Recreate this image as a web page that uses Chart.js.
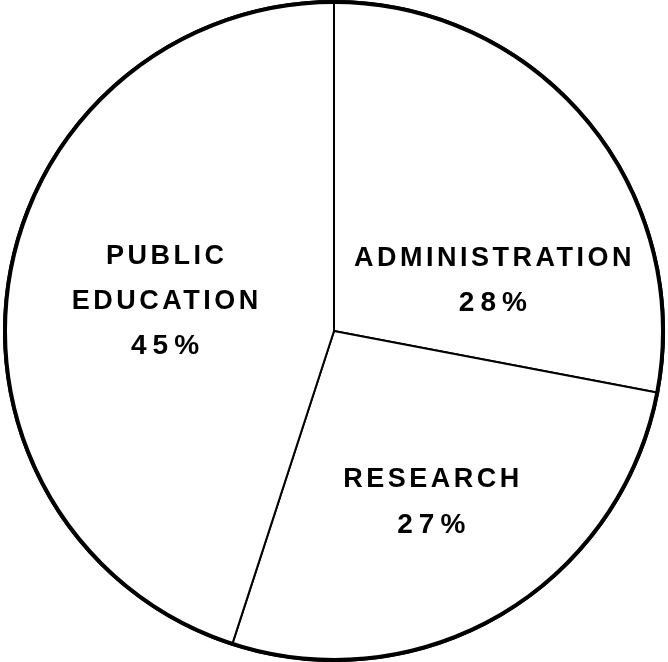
<!DOCTYPE html>
<html>
<head>
<meta charset="utf-8">
<script src="https://cdn.jsdelivr.net/npm/chart.js@4/dist/chart.umd.min.js"></script>
<style>
  html, body { margin: 0; padding: 0; background: #fff; }
  .wrap { width: 668px; height: 662px; }
</style>
</head>
<body>
<div class="wrap"><canvas id="pie-chart" width="668" height="662"></canvas></div>
<script>
// chart values
var categories = ['ADMINISTRATION', 'RESEARCH', 'PUBLIC EDUCATION'];
var shares = [28, 27, 45];
var labelLines = [
  ['ADMINISTRATION', '28%'],
  ['RESEARCH', '27%'],
  ['PUBLIC', 'EDUCATION', '45%']
];

// where each text block sits: angle clockwise from top (deg), share of radius
var labelPlace = [
  { deg: 72.4, r: 0.505 },
  { deg: 150.4, r: 0.597 },
  { deg: 280, r: 0.52 }
];

// outer ring is drawn heavier than the radial lines
var outerRing = {
  id: 'outerRing',
  afterDatasetsDraw: function(chart) {
    var arc = chart.getDatasetMeta(0).data[0];
    if (!arc) return;
    var ctx = chart.ctx;
    ctx.save();
    ctx.beginPath();
    ctx.arc(arc.x, arc.y, arc.outerRadius - 1, 0, Math.PI * 2);
    ctx.lineWidth = 4;
    ctx.strokeStyle = '#000';
    ctx.stroke();
    ctx.restore();
  }
};

// text inside slices
var sliceText = {
  id: 'sliceText',
  afterDraw: function(chart) {
    var ctx = chart.ctx;
    var arcs = chart.getDatasetMeta(0).data;
    ctx.save();
    ctx.fillStyle = '#000';
    ctx.textAlign = 'center';
    ctx.textBaseline = 'middle';
    var lineHeight = 45;
    arcs.forEach(function(arc, i) {
      var p = labelPlace[i];
      var a = (p.deg - 90) * Math.PI / 180;
      var cx = arc.x + Math.cos(a) * p.r * arc.outerRadius;
      var cy = arc.y + Math.sin(a) * p.r * arc.outerRadius;
      var lines = labelLines[i];
      lines.forEach(function(txt, j) {
        // the hand lettered figures are a bit wider than the words
        var isPct = txt.indexOf('%') > -1;
        var spacing = isPct ? 6 : 3.5;
        ctx.font = 'bold ' + (isPct ? 28 : 27) + 'px "Liberation Sans", Arial, sans-serif';
        if ('letterSpacing' in ctx) ctx.letterSpacing = spacing + 'px';
        var y = cy + (j - (lines.length - 1) / 2) * lineHeight;
        ctx.fillText(txt, cx + spacing / 2, y);
      });
    });
    ctx.restore();
  }
};

(function() {
  var ctx = document.getElementById('pie-chart');
  var pieChart = new Chart(ctx, {
    type: 'pie',
    data: {
      labels: categories,
      datasets: [
        {
          data: shares,
          backgroundColor: '#ffffff',
          borderColor: '#000000',
          borderWidth: 2,
          borderAlign: 'center'
        }
      ]
    },
    options: {
      responsive: false,
      animation: false,
      layout: { padding: 0 },
      plugins: {
        legend: { display: false },
        tooltip: { enabled: false }
      }
    },
    plugins: [outerRing, sliceText]
  });
})();
</script>
</body>
</html>
